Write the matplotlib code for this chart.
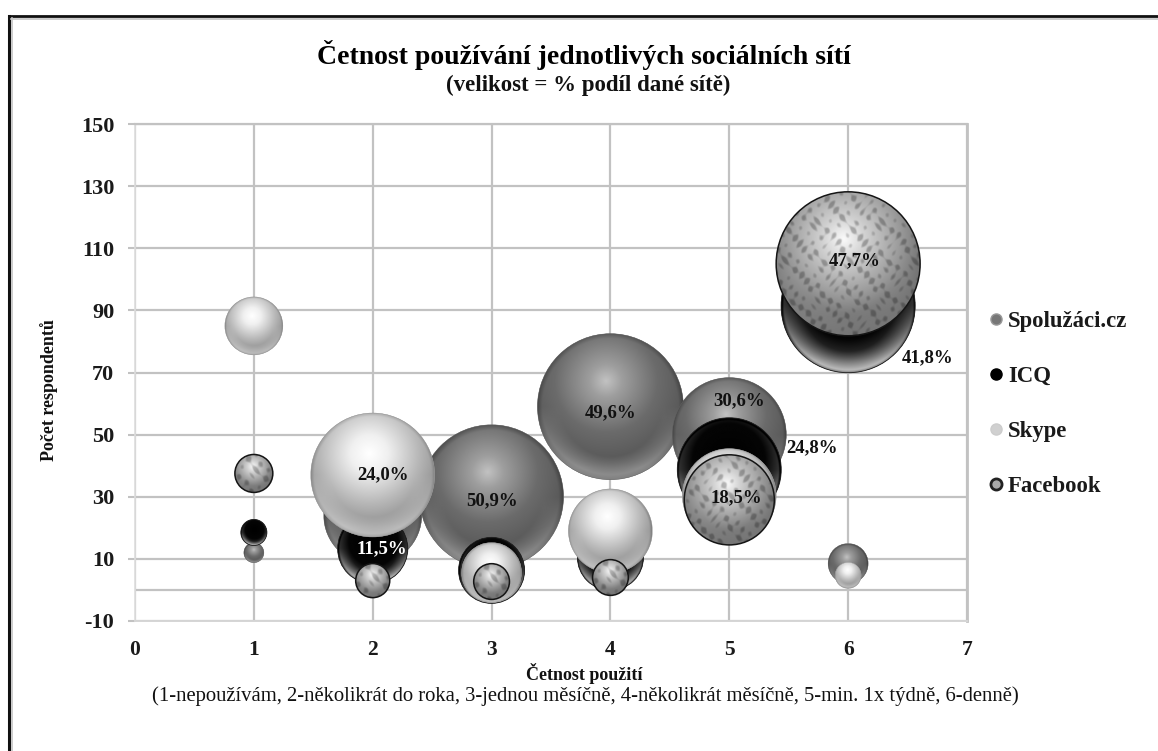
import numpy as np
import matplotlib
matplotlib.use("Agg")
import matplotlib.pyplot as plt
from matplotlib.lines import Line2D
from matplotlib.patches import Ellipse

# ---- data ----
x_values = [1, 2, 3, 4, 5, 6]
series_names = ["Spolužáci.cz", "ICQ", "Skype", "Facebook"]
spoluzaci_y = [12, 24, 30, 59, 50, 8.5]
icq_y = [18.5, 13.3, 6.3, 10.5, 38.7, 91.5]
skype_y = [85, 37, 5.6, 19, 30.4, 4.7]
facebook_y = [37.5, 3, 2.7, 4, 29, 105]
spoluzaci_size = [1, 24, 51.8, 53.3, 32.5, 4]
icq_size = [1.7, 12.3, 10.9, 10.9, 27, 44.9]
skype_size = [8.4, 38.4, 9, 17.6, 22, 1.7]
facebook_size = [3.6, 2.9, 3.2, 3.2, 20.3, 51.8]
y_ticks = [-10, 10, 30, 50, 70, 90, 110, 130, 150]
x_ticks = [0, 1, 2, 3, 4, 5, 6, 7]
# series index, point index, text, colour, offset in pixels from the bubble centre
labels = [
    (0, 2, "50,9%", "#111111", 0, -4),
    (0, 3, "49,6%", "#111111", 0, -6),
    (0, 4, "30,6%", "#111111", 10, 34),
    (1, 1, "11,5%", "#ffffff", 9, 0),
    (1, 4, "24,8%", "#111111", 83, 22),
    (1, 5, "41,8%", "#111111", 79, -52),
    (2, 1, "24,0%", "#111111", 10, 0),
    (3, 4, "18,5%", "#111111", 7, 2),
    (3, 5, "47,7%", "#111111", 7, 3),
]
title = "Četnost používání jednotlivých sociálních sítí"
subtitle = "(velikost = % podíl dané sítě)"
xlabel = "Četnost použití"
xnote = ("(1-nepoužívám, 2-několikrát do roka, 3-jednou měsíčně, "
         "4-několikrát měsíčně, 5-min. 1x týdně, 6-denně)")
ylabel = "Počet respondentů"

W, H = 1158, 751
plt.rcParams["font.family"] = ["Liberation Serif", "DejaVu Serif"]
plt.rcParams["font.weight"] = "bold"
plt.rcParams["axes.labelweight"] = "bold"
plt.rcParams["axes.unicode_minus"] = False
fig = plt.figure(figsize=(W / 100, H / 100), dpi=100, facecolor="white")
L, R, T, B = 135, 967, 124, 621
ax = fig.add_axes([L / W, 1 - B / H, (R - L) / W, (B - T) / H])
ax.set_xlim(0, 7)
ax.set_ylim(-10, 150)
GRID = "#c2c2c2"
ax.set_axisbelow(True)
ax.set_xticks(x_ticks)
ax.set_yticks(y_ticks)
ax.grid(True, color=GRID, lw=1.6)
ax.axhline(0, color=GRID, lw=1.6, zorder=0.5)
for s, c, lw in [("left", "#dddddd", 1.2), ("right", GRID, 2), ("top", GRID, 1.6), ("bottom", "#d5d5d5", 1.4)]:
    ax.spines[s].set_color(c)
    ax.spines[s].set_linewidth(lw)
ax.tick_params(axis="y", length=5, width=1.5, color=GRID, labelsize=16, pad=10, labelcolor="#1a1a1a")
ax.tick_params(axis="x", length=0, labelsize=15.5, pad=14, labelcolor="#1a1a1a")

px_x = (R - L) / 7
px_y = (B - T) / 160
PX = 10.0  # pixels of radius per sqrt(size)


def sphere(kind, r):
    n = max(64, int(4 * r))
    v, u = np.mgrid[1:-1:complex(n), -1:1:complex(n)]
    rho = np.hypot(u, v)
    d = np.hypot(u + 0.06, v - 0.35)
    bottom = np.clip((np.hypot(u, v) - 0.68) / 0.32, 0, 1) * np.clip(-v * 1.2, 0, 1)
    if kind == 0:
        g = np.interp(d, [0, .22, .7, 1.35], [.76, .62, .42, .30]) + .30 * bottom
        g -= .10 * np.clip((rho - .93) / .07, 0, 1)
    elif kind == 1:
        d2 = np.hypot(u, v - 0.2)
        g = np.interp(d2, [0, .7, 1.2], [0, .02, .34]) + .48 * bottom
        g -= .35 * np.clip((rho - .96) / .04, 0, 1)
    elif kind == 2:
        g = np.interp(d, [0, .3, .8, 1.35], [1, .94, .72, .50]) + .25 * bottom
        g -= .10 * np.clip((rho - .95) / .05, 0, 1)
    else:
        g = np.interp(d, [0, .3, .8, 1.35], [.98, .82, .60, .34]) + .12 * bottom
        X, Y = u * r, v * r
        a = (X + 2.8 * np.sin(Y / 6.3)) * 2 * np.pi / 13
        b = (Y + 2.8 * np.sin(X / 5.1)) * 2 * np.pi / 16
        c = (X * 0.7 + Y * 0.7) * 2 * np.pi / 23
        spots = np.clip((np.sin(a) * np.sin(b) + .35 * np.sin(c)) * 1.4 - .25, 0, 1)
        g = g * (1 - .26 * spots)
    return np.clip(g, 0, 1)


series_y = [spoluzaci_y, icq_y, skype_y, facebook_y]
series_size = [spoluzaci_size, icq_size, skype_size, facebook_size]
base_col = ["#6e6e6e", "#050505", "#d8d8d8", "#8f8f8f"]
edge_col = ["#666666", "#222222", "#8a8a8a", "#151515"]
edge_lw = [0.3, 0.6, 0.3, 1.1]
z = 3.0
for k, (ys, sz) in enumerate(zip(series_y, series_size)):
    rpx = PX * np.sqrt(sz)
    # bubble area follows the size array; one marker per point
    ax.scatter(x_values, ys, s=(2 * rpx * 0.72) ** 2, c=base_col[k], linewidths=0,
               zorder=z, clip_on=False)
    z += 0.1
    for xv, yv, r in zip(x_values, ys, rpx):
        rx, ry = r / px_x, r / px_y
        clip = Ellipse((xv, yv), 2 * rx, 2 * ry, transform=ax.transData)
        im = ax.imshow(sphere(k, r), cmap="gray", vmin=0, vmax=1, origin="upper",
                       extent=(xv - rx, xv + rx, yv - ry, yv + ry), aspect="auto",
                       interpolation="bilinear", zorder=z)
        im.set_clip_path(clip)
        ax.add_patch(Ellipse((xv, yv), 2 * rx, 2 * ry, fc="none", ec=edge_col[k],
                             lw=edge_lw[k], zorder=z + 0.01))
        z += 0.02
    z += 0.1
ax.set_xlim(0, 7)
ax.set_ylim(-10, 150)
ax.set_aspect("auto")

for k, i, text, col, dx, dy in labels:
    ax.annotate(text, (x_values[i], series_y[k][i]), xytext=(dx * 0.72, dy * 0.72),
                textcoords="offset points", ha="center", va="center",
                fontsize=13.5, color=col, zorder=50, annotation_clip=False)

fig.text(584 / W, 1 - 55 / H, title, ha="center", va="center", fontsize=20, color="black")
fig.text(588 / W, 1 - 85 / H, subtitle, ha="center", va="center", fontsize=16.5, color="#111111")
ax.set_xlabel(xlabel, fontsize=13, color="#111111", labelpad=0)
ax.xaxis.set_label_coords((584 - L) / (R - L), -(673 - B) / (B - T), transform=ax.transAxes)
ax.xaxis.label.set_va("center")
fig.text(585 / W, 1 - 696 / H, xnote, ha="center", va="center", fontsize=14.9,
         fontweight="normal", color="#111111")
ax.set_ylabel(ylabel, fontsize=13, color="#111111")
ax.yaxis.set_label_coords((58 - L) / (R - L), 1 - (390 - T) / (B - T), transform=ax.transAxes)

handles = [
    Line2D([], [], ls="", marker="o", ms=8, mfc="#777777", mec="#999999", mew=1),
    Line2D([], [], ls="", marker="o", ms=8, mfc="#000000", mec="#000000", mew=1),
    Line2D([], [], ls="", marker="o", ms=8, mfc="#d0d0d0", mec="#cccccc", mew=1),
    Line2D([], [], ls="", marker="o", ms=8, mfc="#aaaaaa", mec="#222222", mew=2),
]
leg = ax.legend(handles, series_names, loc="center left",
                bbox_to_anchor=((983 - L) / (R - L), 1 - (404 - T) / (B - T)),
                frameon=False, fontsize=16.4, labelspacing=1.5, handletextpad=0.0,
                handlelength=1.1, borderpad=0, borderaxespad=0)
for t in leg.get_texts():
    t.set_color("#1a1a1a")

# outer frame: only left and top edges are visible
fig.add_artist(Line2D([9 / W, 9 / W], [0, 1 - 16 / H], color="#111111", lw=2.2, transform=fig.transFigure))
fig.add_artist(Line2D([9 / W, 1], [1 - 16 / H, 1 - 16 / H], color="#111111", lw=2.0, transform=fig.transFigure))
fig.add_artist(Line2D([11 / W, 1], [1 - 18.5 / H, 1 - 18.5 / H], color="#c4c4c4", lw=1.2, transform=fig.transFigure))
fig.add_artist(Line2D([11.5 / W, 11.5 / W], [0, 1 - 18 / H], color="#c4c4c4", lw=1.2, transform=fig.transFigure))

fig.savefig("out.png", dpi=100, facecolor="white")
